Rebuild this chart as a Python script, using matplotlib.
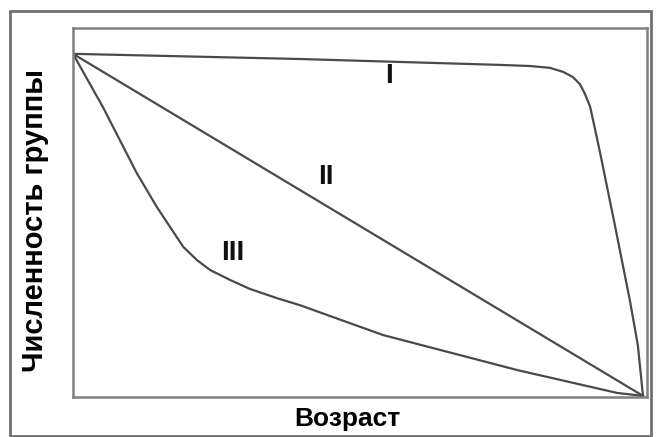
import matplotlib.pyplot as plt
from matplotlib.patches import Rectangle

# Survival curves I, II, III (arbitrary units 0..100)
age_1 = [0, 39.5, 74.4, 79.6, 83.1, 85.4, 87.1, 88.3, 89.2, 90.1, 90.9, 91.8, 94.4, 97.0, 98.4, 99.3]
num_1 = [93, 91.6, 90, 89.7, 89.2, 88.1, 86.7, 84.8, 82.1, 78.6, 72.9, 66.4, 46.6, 26.3, 14.1, 0.3]

age_2 = [0, 99.3]
num_2 = [93, 0.3]

age_3 = [0, 5.2, 11.1, 14.6, 16.9, 19.2, 21.6, 23.9, 27.4, 30.8, 35.5, 39.5, 54.0, 77.4, 94.8, 99.3]
num_3 = [93, 78.6, 60.7, 51.5, 46.1, 40.7, 37.1, 34.4, 31.7, 29.3, 26.8, 24.9, 16.8, 7.3, 1.1, 0.3]

curve_labels = ["I", "II", "III"]
label_x = [55.1, 44.1, 27.9]
label_y = [87.0, 59.5, 39.0]

plt.rcParams['font.family'] = ['Liberation Sans', 'DejaVu Sans']

fig = plt.figure(figsize=(6.56, 4.37), dpi=100)
ax = fig.add_axes([73 / 656, 1 - 397 / 437, 574 / 656, 369 / 437])

line_color = "#4a4a4a"
for xs, ys in [(age_1, num_1), (age_2, num_2), (age_3, num_3)]:
    ax.plot(xs, ys, color=line_color, lw=1.6, solid_joinstyle="round")

for txt, x, y in zip(curve_labels, label_x, label_y):
    ax.text(x, y, txt, fontsize=20, fontweight="bold", ha="center", va="center", color="#111111")

ax.set_xlim(0, 100)
ax.set_ylim(0, 100)
ax.set_xticks([])
ax.set_yticks([])
for s in ax.spines.values():
    s.set_color("#808080")
    s.set_linewidth(1.8)

# outer frame around the whole picture
fig.patches.append(Rectangle((10 / 656, 1 - 436 / 437), 641 / 656, 425 / 437,
                             transform=fig.transFigure, fill=False,
                             edgecolor="#707070", lw=2))

fig.text(347 / 656, 1 - 419 / 437, "Возраст", fontsize=19, fontweight="bold",
         ha="center", va="center")
fig.text(35 / 656, 1 - 221 / 437, "Численность группы", fontsize=21, fontweight="bold",
         ha="center", va="center", rotation=90)

fig.savefig("out.png", dpi=100)
